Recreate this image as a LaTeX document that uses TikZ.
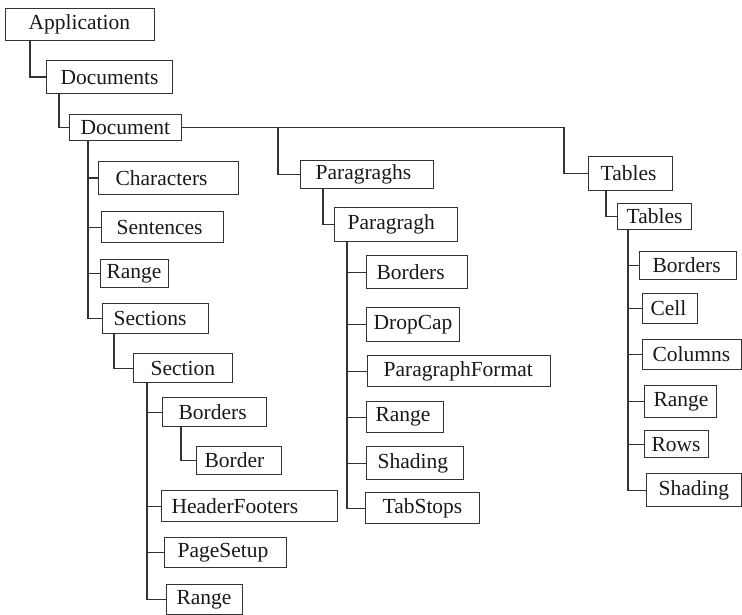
\documentclass[tikz,border=0pt]{standalone}
\usepackage{fontspec}
\setmainfont{Liberation Serif}
\begin{document}
\begin{tikzpicture}[x=1pt,y=-1pt,
  bx/.style={draw=black!80, line width=1.2pt, inner sep=0pt, anchor=north west, text=black!90,
    font=\fontsize{21.5}{24}\selectfont},
  ln/.style={draw=black!80, line width=1.2pt}]
\useasboundingbox (0,0) rectangle (742,615);
\newcommand\bx[7]{\node[bx, minimum height={(#5-#3)*1pt}] (#1) at (#2,#3)
  {\makebox[\dimexpr #4pt-#2pt\relax][l]{\hspace*{#6pt}#7}};}
% boxes
\bx{app}{5}{8}{154}{40}{23}{Application}
\bx{docs}{46}{60}{172}{93}{14}{Documents}
\bx{doc}{69}{114}{181}{140}{11}{Document}
\bx{chars}{98}{161}{238}{194}{17}{Characters}
\bx{sent}{101}{211}{223}{242}{15}{Sentences}
\bx{rngA}{100}{259}{168}{287}{6}{Range}
\bx{secs}{102}{303}{208}{333}{11}{Sections}
\bx{sec}{133}{353}{232}{382}{17}{Section}
\bx{bordA}{162}{397}{266}{426}{16}{Borders}
\bx{border}{196}{446}{281}{474}{8}{Border}
\bx{hf}{161}{490}{337}{521}{10}{HeaderFooters}
\bx{ps}{164}{537}{286}{567}{13}{PageSetup}
\bx{rngB}{166}{584}{242}{614}{10}{Range}
\bx{paras}{300}{160}{433}{188}{15}{Paragraghs}
\bx{para}{334}{207}{457}{241}{13}{Paragragh}
\bx{bordB}{366}{255}{467}{288}{10}{Borders}
\bx{drop}{366}{307}{459}{341}{7}{DropCap}
\bx{pf}{367}{355}{550}{386}{16}{ParagraphFormat}
\bx{rngC}{366}{401}{443}{432}{9}{Range}
\bx{shadA}{366}{446}{463}{479}{11}{Shading}
\bx{tabst}{365}{492}{479}{523}{17}{TabStops}
\bx{tabsA}{588}{156}{672}{190}{12}{Tables}
\bx{tabsB}{617}{203}{691}{229}{9}{Tables}
\bx{bordC}{639}{251}{736}{279}{13}{Borders}
\bx{cell}{642}{293}{697}{323}{8}{Cell}
\bx{cols}{642}{339}{741}{369}{10}{Columns}
\bx{rngD}{644}{385}{716}{417}{9}{Range}
\bx{rows}{644}{430}{708}{457}{7}{Rows}
\bx{shadB}{646}{473}{741}{506}{12}{Shading}
% junctions on the Document line
\coordinate (jP) at (278,0);
\coordinate (jT) at (564,0);
% connectors
\draw[ln] ([xshift=25pt]app.south west) |- (docs.west);
\draw[ln] ([xshift=13pt]docs.south west) |- (doc.west);
\draw[ln] ([xshift=19pt]doc.south west) |- (chars.west)
  ([xshift=19pt]doc.south west) |- (sent.west)
  ([xshift=19pt]doc.south west) |- (rngA.west)
  ([xshift=19pt]doc.south west) |- (secs.west);
\draw[ln] ([xshift=12pt]secs.south west) |- (sec.west);
\draw[ln] ([xshift=14pt]sec.south west) |- (bordA.west)
  ([xshift=14pt]sec.south west) |- (hf.west)
  ([xshift=14pt]sec.south west) |- (ps.west)
  ([xshift=14pt]sec.south west) |- (rngB.west);
\draw[ln] ([xshift=19pt]bordA.south west) |- (border.west);
\draw[ln] (doc.east) -- (doc.east -| jT) |- (tabsA.west);
\draw[ln] (doc.east -| jP) |- (paras.west);
\draw[ln] ([xshift=23pt]paras.south west) |- (para.west);
\draw[ln] ([xshift=13pt]para.south west) |- (bordB.west)
  ([xshift=13pt]para.south west) |- (drop.west)
  ([xshift=13pt]para.south west) |- (pf.west)
  ([xshift=13pt]para.south west) |- (rngC.west)
  ([xshift=13pt]para.south west) |- (shadA.west)
  ([xshift=13pt]para.south west) |- (tabst.west);
\draw[ln] ([xshift=18pt]tabsA.south west) |- (tabsB.west);
\draw[ln] ([xshift=11pt]tabsB.south west) |- (bordC.west)
  ([xshift=11pt]tabsB.south west) |- (cell.west)
  ([xshift=11pt]tabsB.south west) |- (cols.west)
  ([xshift=11pt]tabsB.south west) |- (rngD.west)
  ([xshift=11pt]tabsB.south west) |- (rows.west)
  ([xshift=11pt]tabsB.south west) |- (shadB.west);
\end{tikzpicture}
\end{document}
